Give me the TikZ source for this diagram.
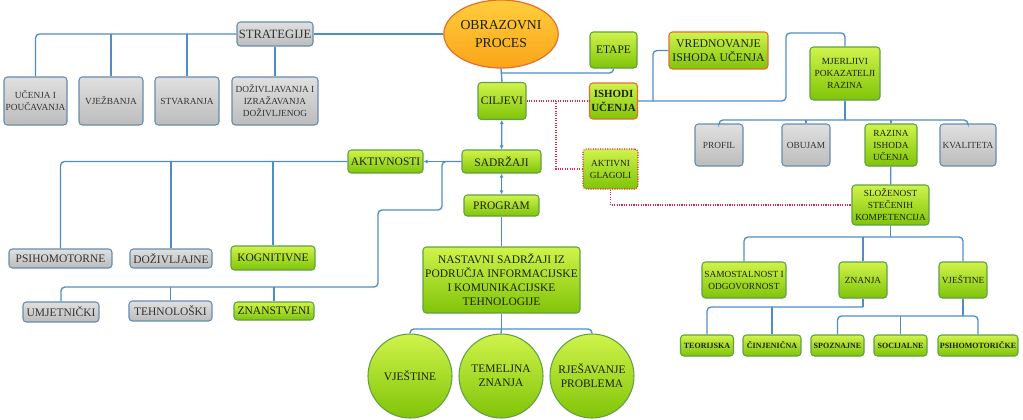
\documentclass[tikz,border=0pt]{standalone}
\usepackage{fontspec}
\setmainfont{Liberation Serif}
\usepackage{tikz}
\usetikzlibrary{arrows.meta,shapes.geometric,positioning,calc}
\definecolor{linecol}{RGB}{79,141,196}
\definecolor{greenline}{RGB}{96,160,70}
\definecolor{greentop}{RGB}{208,243,75}
\definecolor{greenbot}{RGB}{128,196,8}
\definecolor{graytop}{RGB}{224,224,224}
\definecolor{graybot}{RGB}{188,188,188}
\definecolor{grayline}{RGB}{100,140,175}
\definecolor{orangeline}{RGB}{232,110,40}
\definecolor{proctop}{RGB}{255,205,60}
\definecolor{procbot}{RGB}{250,165,25}
\definecolor{dotred}{RGB}{225,40,70}
\definecolor{txt}{RGB}{25,35,10}

\begin{document}
\begin{tikzpicture}[
    x=0.75pt, y=-0.75pt,
    wh/.style 2 args={minimum width=#1*0.75pt, minimum height=#2*0.75pt},
    box/.style={rectangle, rounded corners=2.5pt, draw=greenline, line width=0.8pt, top color=greentop, bottom color=greenbot, align=center, inner sep=1pt, text=txt, font=\fontsize{8.6}{10.5}\selectfont},
    small/.style={font=\fontsize{7}{9}\selectfont},
    tiny/.style={font=\fontsize{6}{7}\selectfont\bfseries},
    graybox/.style={box, draw=grayline, top color=graytop, bottom color=graybot, text=black!80},
    orangebox/.style={box, draw=orangeline},
    dotbox/.style={box, draw=dotred, densely dotted},
    ball/.style={circle, draw=greenline, line width=0.8pt, top color=greentop, bottom color=greenbot, align=center, inner sep=1pt, text=txt, minimum size=84*0.75pt, font=\fontsize{8.6}{10.5}\selectfont},
    link/.style={draw=linecol, line width=1pt, rounded corners=3pt},
    arrow/.style={link, -{Latex[length=3pt,width=3pt]}},
    twoway/.style={link, {Latex[length=3pt,width=3pt]}-{Latex[length=3pt,width=3pt]}},
    redlink/.style={draw=dotred, line width=0.8pt, densely dotted},
]
\useasboundingbox (0,0) rectangle (1023,419);

% top left: strategies
\node[graybox, wh={76}{24}, font=\fontsize{9.5}{11}\selectfont] (strat) at (275,34) {STRATEGIJE};
\node[graybox, small, wh={63}{48}] (ucenja) at (35.5,101) {UČENJA I\\POUČAVANJA};
\node[graybox, small, wh={64}{48}] (vjezb) at (111,101) {VJEŽBANJA};
\node[graybox, small, wh={64}{48}] (stvar) at (187,101) {STVARANJA};
\node[graybox, small, wh={86}{48}] (dozivlj) at (275,101) {DOŽIVLJAVANJA I\\IZRAŽAVANJA\\DOŽIVLJENOG};

% centre column
\node[ellipse, draw=orangeline, line width=0.9pt, top color=proctop, bottom color=procbot, minimum width=103*0.75pt, minimum height=68*0.75pt, inner sep=0pt, align=center, text=txt, font=\fontsize{10.3}{13}\selectfont] (proces) at (501,34) {OBRAZOVNI\\PROCES};
\node[box, wh={47}{36}] (etape) at (613.5,50) {ETAPE};
\node[box, wh={48}{37}] (ciljevi) at (502,101) {CILJEVI};
\node[orangebox, wh={48}{36}, font=\fontsize{8.2}{10.5}\selectfont\bfseries] (ishodi) at (613.5,101) {ISHODI\\UČENJA};
\node[orangebox, wh={99}{37}, font=\fontsize{8.8}{10.5}\selectfont] (vredn) at (718.5,50.5) {VREDNOVANJE\\ISHODA UČENJA};
\node[box, wh={79}{23}] (sadrz) at (501.5,161.5) {SADRŽAJI};
\node[box, wh={75}{21}] (prog) at (501.5,205.5) {PROGRAM};
\node[box, wh={157}{66}] (nastav) at (501.5,280) {NASTAVNI SADRŽAJI IZ\\PODRUČJA INFORMACIJSKE\\I KOMUNIKACIJSKE\\TEHNOLOGIJE};
\node[ball] (vjestc) at (410,376) {VJEŠTINE};
\node[ball] (temelj) at (501,376) {TEMELJNA\\ZNANJA};
\node[ball] (rjes) at (592,376) {RJEŠAVANJE\\PROBLEMA};
\node[dotbox, small, wh={55}{40}] (glag) at (610.5,169) {AKTIVNI\\GLAGOLI};

% left: activities and kinds
\node[box, wh={75}{23}] (aktiv) at (385.5,161.5) {AKTIVNOSTI};
\node[graybox, wh={103}{19}] (psihom) at (60.5,258.5) {PSIHOMOTORNE};
\node[graybox, wh={82}{19}] (doziv) at (171,258.5) {DOŽIVLJAJNE};
\node[box, wh={84}{24}] (kogn) at (273,258) {KOGNITIVNE};
\node[graybox, wh={76}{20}] (umjet) at (61,312) {UMJETNIČKI};
\node[graybox, wh={83}{20}] (tehn) at (170.5,311) {TEHNOLOŠKI};
\node[box, wh={80}{18}] (znanst) at (274,311) {ZNANSTVENI};

% right: measurable indicators
\node[box, small, wh={70}{53}] (mjerlj) at (845,73.5) {MJERLJIVI\\POKAZATELJI\\RAZINA};
\node[graybox, small, wh={48}{42}] (profil) at (719,145) {PROFIL};
\node[graybox, small, wh={48}{42}] (obujam) at (806,145) {OBUJAM};
\node[box, small, wh={52}{42}] (razina) at (891,145) {RAZINA\\ISHODA\\UČENJA};
\node[graybox, small, wh={56}{42}] (kvalit) at (968,145) {KVALITETA};
\node[box, small, wh={77}{40}] (slozen) at (890.5,205) {SLOŽENOST\\STEČENIH\\KOMPETENCIJA};
\node[box, small, wh={84}{36}] (samost) at (744,280) {SAMOSTALNOST I\\ODGOVORNOST};
\node[box, small, wh={48}{36}] (znanja) at (863,280) {ZNANJA};
\node[box, small, wh={48}{36}] (vjest) at (963,280) {VJEŠTINE};
\node[box, tiny, wh={53}{21}] (teor) at (707,345.5) {TEORIJSKA};
\node[box, tiny, wh={58}{21}] (cinj) at (772,345.5) {ČINJENIČNA};
\node[box, tiny, wh={53}{21}] (spozn) at (837.5,345.5) {SPOZNAJNE};
\node[box, tiny, wh={53}{21}] (socij) at (900.5,345.5) {SOCIJALNE};
\node[box, tiny, wh={80}{21}] (psihmot) at (978,345.5) {PSIHOMOTORIČKE};

% junctions
\coordinate (pj) at (501,73);
\coordinate (k1) at (442,210);
\coordinate (k2) at (378,287);
\coordinate (m1) at (786,33);
\coordinate (v1) at (653,101);
\coordinate (mj) at (845,120);
\coordinate (sj) at (890.5,237);
\coordinate (zj) at (863,307);
\coordinate (vj) at (963,316);
\coordinate (nj) at (501.5,329);
\coordinate (r1) at (556,101);

% connectors
\draw[link] (strat) -- (proces);
\draw[link] (strat.west) -| (ucenja.north);
\draw[link] (vjezb.north) -- (vjezb.north |- strat.west);
\draw[link] (stvar.north) -- (stvar.north |- strat.west);
\draw[link] (strat) -- (dozivlj);
\draw[link] (proces.south) -- (ciljevi.north);
\draw[link] (pj) -| (etape.south);
\draw[twoway] (ciljevi) -- (sadrz);
\draw[twoway] (sadrz) -- (prog);
\draw[link] (prog) -- (nastav);
\draw[link] (nastav.south) -- (nj);
\draw[link] (vjestc.north) |- (nj) -| (rjes.north);
\draw[link] (temelj.north) -- (nj);
\draw[arrow] (sadrz) -- (aktiv);
\draw[link] (aktiv.west) -| (psihom.north);
\draw[link] (doziv.north) -- (doziv.north |- aktiv.west);
\draw[link] (kogn.north) -- (kogn.north |- aktiv.west);
\draw[link] (sadrz.west) -| (k1) -| (k2) -| (umjet.north);
\draw[link] (tehn.north) -- (tehn.north |- k2);
\draw[link] (znanst.north) -- (znanst.north |- k2);
\draw[link] (ishodi.east) -| (m1) -| (mjerlj.north);
\draw[link] (vredn.west) -| (v1);
\draw[link] (mjerlj.south) -- (mj);
\draw[link] (profil.north) |- (mj) -| (kvalit.north);
\draw[link] (obujam.north) -- (obujam.north |- mj);
\draw[link] (razina.north) -- (razina.north |- mj);
\draw[link] (razina) -- (slozen);
\draw[link] (slozen.south) -- (sj);
\draw[link] (samost.north) |- (sj) -| (vjest.north);
\draw[link] (znanja.north) -- (znanja.north |- sj);
\draw[link] (znanja.south) -- (zj);
\draw[link] (teor.north) |- (zj);
\draw[link] (cinj.north) -- (cinj.north |- zj);
\draw[link] (vjest.south) -- (vj);
\draw[link] (spozn.north) |- (vj) -| (psihmot.north);
\draw[link] (socij.north) -- (socij.north |- vj);
\draw[redlink] (ciljevi) -- (ishodi);
\draw[redlink] (r1) |- (glag.west);
\draw[redlink] (glag.south) |- (slozen.west);
\end{tikzpicture}
\end{document}
